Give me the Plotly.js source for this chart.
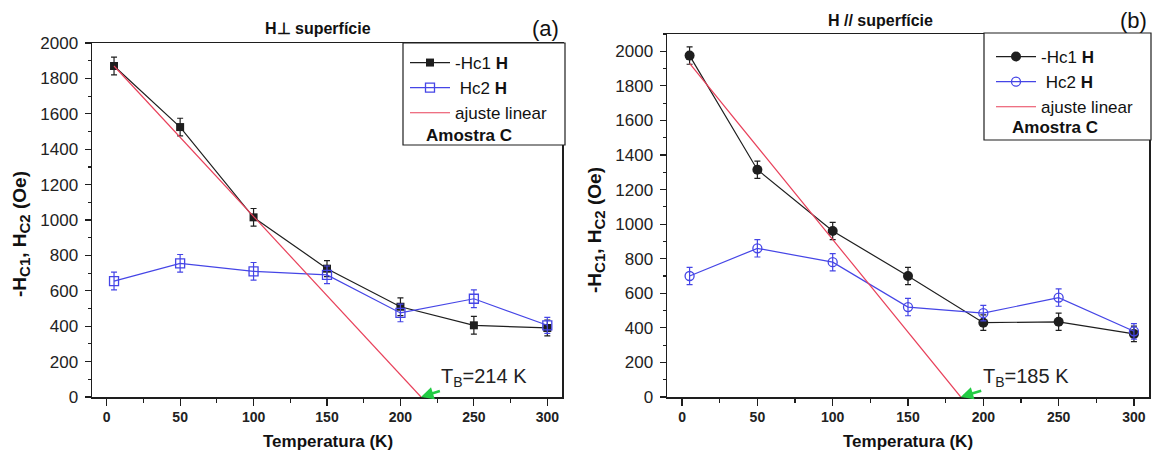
<!DOCTYPE html>
<html><head><meta charset="utf-8">
<script src="https://cdn.plot.ly/plotly-3.0.1.min.js"></script>
<style>html,body{margin:0;padding:0;background:#fff}#chart{width:1157px;height:459px}</style>
</head><body><div id="chart"></div>
<script>
// ---- data ----
const temps = [5, 50, 100, 150, 200, 250, 300];
// panel (a) H perpendicular
const hc1A = [1870, 1525, 1015, 725, 510, 405, 390];
const hc1AErr = [50, 50, 50, 45, 50, 50, 45];
const hc2A = [655, 755, 710, 690, 475, 555, 405];
const hc2AErr = [50, 50, 50, 50, 50, 50, 45];
const fitAx = [5, 214];
const fitAy = [1870, 0];
const tbA = 214;
// panel (b) H parallel
const hc1B = [1975, 1315, 960, 700, 430, 435, 365];
const hc1BErr = [50, 50, 50, 50, 45, 50, 45];
const hc2B = [700, 860, 780, 520, 485, 575, 380];
const hc2BErr = [50, 50, 50, 50, 45, 50, 45];
const fitBx = [5, 185];
const fitBy = [1930, 0];
const tbB = 185;
const xTicks = [0, 50, 100, 150, 200, 250, 300];
const legendNames = ['-Hc1 <b>H</b>', ' Hc2 <b>H</b>', 'ajuste linear'];
const sampleLabel = '<b>Amostra C</b>';

// ---- style ----
const FONT = 'Liberation Sans, Arial, sans-serif';
const BLACK = '#1e1e1e';
const BLUE = '#4545e6';
const RED = '#e8405a';
const GREEN = '#22cc44';
const W = 1157, H = 459;
const px = v => v / W, py = v => 1 - v / H;

function err(a, c) { return {type: 'data', array: a, visible: true, color: c, thickness: 1.2, width: 3}; }

const traces = [
  {x: temps, y: hc1A, error_y: err(hc1AErr, BLACK), xaxis: 'x', yaxis: 'y', mode: 'lines+markers', name: legendNames[0], legend: 'legend',
   line: {color: BLACK, width: 1.2}, marker: {symbol: 'square', size: 8, color: BLACK}},
  {x: temps, y: hc2A, error_y: err(hc2AErr, BLUE), xaxis: 'x', yaxis: 'y', mode: 'lines+markers', name: legendNames[1], legend: 'legend',
   line: {color: BLUE, width: 1.2}, marker: {symbol: 'square-open', size: 9, color: BLUE, line: {width: 1.3}}},
  {x: fitAx, y: fitAy, xaxis: 'x', yaxis: 'y', mode: 'lines', name: legendNames[2], legend: 'legend',
   line: {color: RED, width: 1.2}},
  {x: temps, y: hc1B, error_y: err(hc1BErr, BLACK), xaxis: 'x2', yaxis: 'y2', mode: 'lines+markers', name: legendNames[0], legend: 'legend2',
   line: {color: BLACK, width: 1.2}, marker: {symbol: 'circle', size: 10, color: BLACK}},
  {x: temps, y: hc2B, error_y: err(hc2BErr, BLUE), xaxis: 'x2', yaxis: 'y2', mode: 'lines+markers', name: legendNames[1], legend: 'legend2',
   line: {color: BLUE, width: 1.2}, marker: {symbol: 'circle-open', size: 9, color: BLUE, line: {width: 1.3}}},
  {x: fitBx, y: fitBy, xaxis: 'x2', yaxis: 'y2', mode: 'lines', name: legendNames[2], legend: 'legend2',
   line: {color: RED, width: 1.2}}
];

function xax(dom, anchor) {
  return {domain: dom, anchor: anchor, range: [-10, 310], tickvals: xTicks, ticks: 'outside', ticklen: 7, tickwidth: 1.2,
    tickcolor: BLACK, showline: true, linecolor: BLACK, linewidth: 1.5, mirror: true, showgrid: false, zeroline: false,
    minor: {dtick: 25, tick0: 0, ticks: 'outside', ticklen: 4, tickcolor: BLACK, showgrid: false},
    tickfont: {family: FONT, size: 14, color: '#222', weight: 'bold'}, fixedrange: true};
}
function yax(dom, anchor, top) {
  return {domain: dom, anchor: anchor, range: [0, top], dtick: 200, ticks: 'outside', ticklen: 6, tickwidth: 1.2,
    tickcolor: BLACK, showline: true, linecolor: BLACK, linewidth: 1.5, mirror: true, showgrid: false, zeroline: false,
    minor: {dtick: 100, ticks: 'outside', ticklen: 3, tickcolor: BLACK, showgrid: false}, ticklabelstandoff: 3,
    tickfont: {family: FONT, size: 17, color: '#222'}, fixedrange: true};
}

function legendAt(x, y) {
  return {x: px(x), y: py(y), xanchor: 'left', yanchor: 'top', bgcolor: 'rgba(0,0,0,0)', borderwidth: 0,
    font: {family: FONT, size: 17, color: '#111'}, tracegroupgap: 0, itemwidth: 40};
}

function boxShape(x0, x1, y0, y1) {
  return {type: 'rect', xref: 'paper', yref: 'paper', x0: px(x0), x1: px(x1), y0: py(y1), y1: py(y0),
    line: {color: BLACK, width: 1.2}, fillcolor: '#fff', layer: 'above'};
}

function label(text, x, y, size, bold, angle) {
  return {text: text, xref: 'paper', yref: 'paper', x: px(x), y: py(y), xanchor: 'center', yanchor: 'middle',
    showarrow: false, textangle: angle || 0,
    font: {family: FONT, size: size, color: '#111', weight: bold ? 'bold' : 'normal'}};
}

const ytitle = '-H<sub><span style="font-size:15px">C1</span></sub>, H<sub><span style="font-size:15px">C2</span></sub> (Oe)';
const layout = {
  width: W, height: H, margin: {l: 0, r: 0, t: 0, b: 0}, paper_bgcolor: '#fff', plot_bgcolor: '#fff',
  showlegend: true,
  xaxis: xax([px(92), px(562)], 'y'),
  yaxis: yax([py(397), py(43)], 'x', 2000),
  xaxis2: xax([px(667), px(1149)], 'y2'),
  yaxis2: yax([py(397), py(34)], 'x2', 2100),
  legend: legendAt(405, 45),
  legend2: legendAt(991, 39),
  shapes: [boxShape(403, 565, 43, 145), boxShape(984, 1151, 33, 140)],
  annotations: [
    label('H\u22A5 superfície', 318, 28, 16, true),
    label('H // superfície', 881, 20, 16, true),
    label('(a)', 545, 28, 22, false),
    label('(b)', 1133, 20, 22, false),
    label(sampleLabel, 469, 135, 17, true),
    label(sampleLabel, 1055, 128, 17, true),
    label(ytitle, 21, 234, 19, true, -90),
    label(ytitle, 596, 230, 19, true, -90),
    label('Temperatura (K)', 328, 441, 17, true),
    label('Temperatura (K)', 908, 441, 17, true),
    {text: 'T<sub>B</sub>=' + tbA + ' K', xref: 'x', yref: 'y', x: tbA, y: 0, ax: 63, ay: -20, showarrow: true,
     arrowhead: 2, arrowsize: 1, arrowwidth: 2.5, arrowcolor: GREEN, font: {family: FONT, size: 20, color: '#222'}},
    {text: 'T<sub>B</sub>=' + tbB + ' K', xref: 'x2', yref: 'y2', x: tbB, y: 0, ax: 65, ay: -20, showarrow: true,
     arrowhead: 2, arrowsize: 1, arrowwidth: 2.5, arrowcolor: GREEN, font: {family: FONT, size: 20, color: '#222'}}
  ]
};

Plotly.newPlot('chart', traces, layout, {staticPlot: true, displayModeBar: false});
</script>
</body></html>
